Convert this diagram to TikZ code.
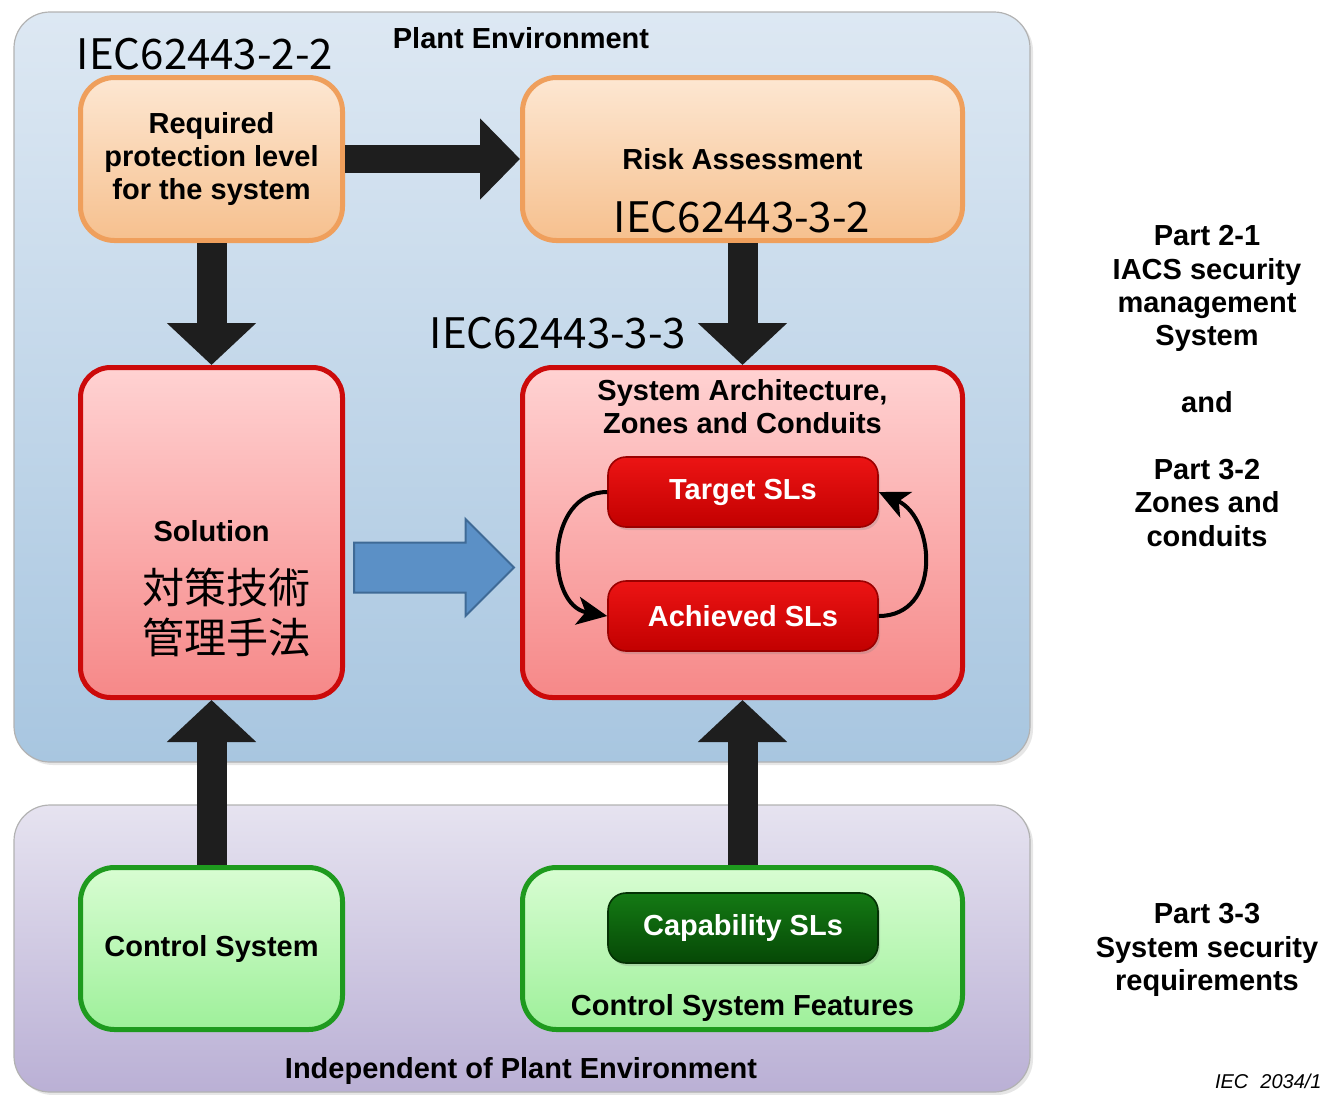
\documentclass[tikz,border=0pt]{standalone}
\usepackage{fontspec}
\setmainfont{Liberation Sans}
\newfontfamily\jpfont{Noto Sans CJK JP}
\usetikzlibrary{positioning,arrows.meta,shapes.arrows,calc,shadows}
\definecolor{plantT}{HTML}{DDE8F3}
\definecolor{plantB}{HTML}{A8C6E0}
\definecolor{indepT}{HTML}{E6E3F0}
\definecolor{indepB}{HTML}{BAB0D5}
\definecolor{orangeD}{HTML}{EF9F5C}
\definecolor{orangeT}{HTML}{FDE7D2}
\definecolor{orangeB}{HTML}{F6C08E}
\definecolor{redD}{HTML}{CC0A0A}
\definecolor{redT}{HTML}{FFD2D2}
\definecolor{redB}{HTML}{F68888}
\definecolor{slT}{HTML}{EC1414}
\definecolor{slB}{HTML}{C20000}
\definecolor{greenD}{HTML}{1E9A1E}
\definecolor{greenT}{HTML}{D8FDD2}
\definecolor{greenB}{HTML}{9EF09A}
\definecolor{capT}{HTML}{147A14}
\definecolor{capB}{HTML}{064806}
\definecolor{arrowD}{HTML}{1E1E1E}
\definecolor{blueF}{HTML}{5B90C6}
\definecolor{blueD}{HTML}{3F6A96}
\newcommand{\lblfont}{\fontsize{14.5}{16.7}\selectfont\bfseries}
\tikzset{
  panel/.style     = {draw=gray!60, line width=0.6pt, rounded corners=18pt,
                      drop shadow={opacity=0.2, shadow xshift=1.5pt, shadow yshift=-1.5pt}},
  lbl/.style       = {inner sep=0pt, align=center, font=\lblfont},
  sidetxt/.style   = {inner sep=0pt, align=center, font=\lblfont},
  ieclbl/.style    = {inner sep=0pt, font=\jpfont\fontsize{21}{24}\selectfont},
  jptext/.style    = {inner sep=0pt, align=center, font=\jpfont\fontsize{21}{25}\selectfont},
  reqbox/.style    = {draw=orangeD, line width=2.5pt, rounded corners=17pt, top color=orangeT,
                      bottom color=orangeB, align=center, font=\lblfont, minimum height=81.5pt},
  redbox/.style    = {draw=redD, line width=2.5pt, rounded corners=15pt, top color=redT,
                      bottom color=redB, minimum height=165pt},
  greenbox/.style  = {draw=greenD, line width=2.5pt, rounded corners=17pt, top color=greenT,
                      bottom color=greenB, align=center, font=\lblfont, minimum height=81pt},
  slbox/.style     = {draw=slB!80!black, line width=0.8pt, rounded corners=9pt, top color=slT,
                      bottom color=slB, text=white, font=\lblfont, minimum width=135pt,
                      minimum height=35pt,
                      drop shadow={opacity=0.25, shadow xshift=1pt, shadow yshift=-1.5pt}},
  capbox/.style    = {slbox, draw=capB!70!black, top color=capT, bottom color=capB},
  fatv/.style      = {draw=arrowD, line width=15pt, -{Triangle[width=43.5pt,length=21pt]}},
  fath/.style      = {draw=arrowD, line width=14pt, -{Triangle[width=39.5pt,length=20pt]}},
  cyc/.style       = {draw=black, line width=2pt, -{Stealth[length=15pt,width=14pt,inset=4pt]}},
  bluearrow/.style = {single arrow, draw=blueD, line width=1pt, fill=blueF, inner xsep=0pt,
                      inner ysep=12pt, minimum height=80pt, single arrow head extend=11.75pt},
}

\begin{document}
\begin{tikzpicture}[x=0.5pt, y=-0.5pt]
  \useasboundingbox (0,0) rectangle (1324,1094);

  \node[panel, top color=plantT, bottom color=plantB, minimum width=508pt,
        minimum height=375pt] (plant) at (522,387) {};
  \node[panel, top color=indepT, bottom color=indepB, minimum width=508pt,
        minimum height=143.5pt] (indep) at (522,948.5) {};
  \node[lbl, anchor=base] (plantlbl) at (521,48) {Plant Environment};
  \node[lbl, anchor=base] (indeplbl) at (521,1078) {Independent of Plant Environment};

  \node[reqbox, minimum width=131pt] (req) at (211.5,159) {Required\\protection level\\for the system};
  \node[reqbox, minimum width=220pt] (risk) at (742.5,159) {Risk Assessment};
  \node[redbox, minimum width=131pt] (sol) at (211.5,532.5) {};
  \node[redbox, minimum width=220pt] (arch) at (742.5,532.5) {};
  \node[greenbox, minimum width=131pt] (ctrl) at (211.5,948.5) {Control System};
  \node[greenbox, minimum width=220pt] (feat) at (742.5,948.5) {};

  \node[lbl, anchor=base] (soltxt) at (211.5,541) {Solution};
  \node[jptext] (solja) at (226,612) {対策技術\\管理手法};
  \node[lbl, below=7pt of arch.north] (archttl) {System Architecture,\\Zones and Conduits};
  \node[slbox] (tgt) at (743,492) {Target SLs};
  \node[slbox] (ach) at (743,616) {Achieved SLs};
  \node[capbox] (cap) at (743,928) {Capability SLs};
  \node[lbl, above=5pt of feat.south] (featlbl) {Control System Features};

  \node[ieclbl, anchor=base] (iec22) at (205,69) {IEC62443-2-2};
  \node[ieclbl, anchor=base] (iec32) at (742,232) {IEC62443-3-2};
  \node[ieclbl, anchor=base] (iec33) at (558,348) {IEC62443-3-3};

  \draw[fath] (req) -- (risk);
  \draw[fatv] (req) -- (sol);
  \draw[fatv] (risk) -- (arch);
  \draw[fatv] (ctrl) -- (sol);
  \draw[fatv] (feat) -- (arch);
  \node[bluearrow, anchor=tail] (solarrow) at ($(sol.east)+(8,35)$) {};

  \draw[cyc] (tgt.west) to[out=180, in=170, looseness=1.3] (ach.west);
  \draw[cyc] (ach.east) to[out=0, in=-25, looseness=1.3] (tgt.east);

  \node[sidetxt, anchor=north] (part21) at (1207,225)
    {Part 2-1\\IACS security\\management\\System\\[16.7pt]and\\[16.7pt]Part 3-2\\Zones and\\conduits};
  \node[sidetxt, anchor=north] (part33) at (1207,903)
    {Part 3-3\\System security\\requirements};
  \node[inner sep=0pt, anchor=north east, font=\itshape\fontsize{10}{12}\selectfont]
    (figno) at (1322,1074) {IEC\hspace{6pt}2034/1};
\end{tikzpicture}
\end{document}
